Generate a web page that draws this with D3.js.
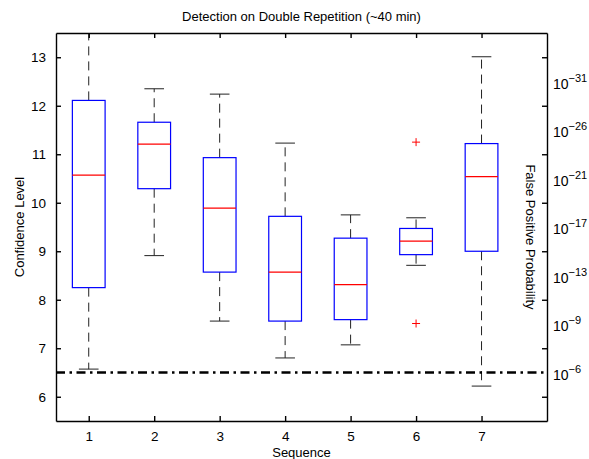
<!DOCTYPE html>
<html>
<head>
<meta charset="utf-8">
<script src="https://cdn.jsdelivr.net/npm/d3@7"></script>
<style>
  body { margin: 0; background: #fff; }
  text { font-family: "Liberation Sans", Arial, sans-serif; fill: #000; }
  .tick text { font-size: 13.5px; }
  .box { fill: none; stroke: #0000ff; stroke-width: 1.2px; }
  .median { stroke: #ff0000; stroke-width: 1.2px; }
  .whisker { stroke: #222; stroke-width: 1px; stroke-dasharray: 9 6; }
  .cap { stroke: #222; stroke-width: 1px; }
  .outlier { stroke: #ff0000; stroke-width: 1px; }
  .threshold { stroke: #000; stroke-width: 2.6px; stroke-dasharray: 9 4.5 2.5 4.5; fill: none; }
  .frame line, .frame path { stroke: #000; stroke-width: 1.4px; }
</style>
</head>
<body>
<svg id="chart" width="589" height="459"></svg>
<script>
  // values
  const sequences = [1, 2, 3, 4, 5, 6, 7];
  const whiskerLow = [6.57, 8.91, 7.56, 6.80, 7.07, 8.71, 6.22];
  const q1 = [8.25, 10.29, 8.57, 7.56, 7.59, 8.93, 9.00];
  const median = [10.57, 11.21, 9.89, 8.57, 8.31, 9.21, 10.54];
  const q3 = [12.11, 11.66, 10.93, 9.72, 9.27, 9.47, 11.22];
  const whiskerHigh = [13.9, 12.35, 12.24, 11.23, 9.75, 9.69, 13.01];
  const outliers = [[6, 11.25], [6, 7.51]];
  const threshold = 6.5;
  const yTicks = [6, 7, 8, 9, 10, 11, 12, 13];
  const rightExponents = [-31, -26, -21, -17, -13, -9, -6];
  const rightLabelAt = [12.5, 11.5, 10.5, 9.5, 8.5, 7.5, 6.5];

  const margin = {top: 33, right: 42, bottom: 38, left: 56};
  const width = 589, height = 459;
  const svg = d3.select('#chart');

  const x = d3.scaleLinear().domain([0.5, 8]).range([margin.left, width - margin.right]);
  const y = d3.scaleLinear().domain([5.5, 13.5]).range([height - margin.bottom, margin.top]);

  const boxHalf = 0.25, capHalf = 0.15;

  svg.append('clipPath').attr('id', 'plot-clip')
    .append('rect')
    .attr('x', x(0.5)).attr('y', y(13.5))
    .attr('width', x(8) - x(0.5)).attr('height', y(5.5) - y(13.5));

  const plot = svg.append('g').attr('clip-path', 'url(#plot-clip)');

  const data = sequences.map((s, i) => ({
    s, lo: whiskerLow[i], q1: q1[i], med: median[i], q3: q3[i], hi: whiskerHigh[i]
  }));

  const g = plot.selectAll('g.seq').data(data).join('g').attr('class', 'seq');

  // whiskers
  g.append('line').attr('class', 'whisker')
    .attr('x1', d => x(d.s)).attr('x2', d => x(d.s))
    .attr('y1', d => y(d.q3)).attr('y2', d => y(d.hi));
  g.append('line').attr('class', 'whisker')
    .attr('x1', d => x(d.s)).attr('x2', d => x(d.s))
    .attr('y1', d => y(d.q1)).attr('y2', d => y(d.lo));
  // caps
  g.append('line').attr('class', 'cap')
    .attr('x1', d => x(d.s - capHalf)).attr('x2', d => x(d.s + capHalf))
    .attr('y1', d => y(d.hi)).attr('y2', d => y(d.hi));
  g.append('line').attr('class', 'cap')
    .attr('x1', d => x(d.s - capHalf)).attr('x2', d => x(d.s + capHalf))
    .attr('y1', d => y(d.lo)).attr('y2', d => y(d.lo));
  // boxes
  g.append('rect').attr('class', 'box')
    .attr('x', d => x(d.s - boxHalf)).attr('width', d => x(d.s + boxHalf) - x(d.s - boxHalf))
    .attr('y', d => y(d.q3)).attr('height', d => y(d.q1) - y(d.q3));
  g.append('line').attr('class', 'median')
    .attr('x1', d => x(d.s - boxHalf)).attr('x2', d => x(d.s + boxHalf))
    .attr('y1', d => y(d.med)).attr('y2', d => y(d.med));

  // outliers as red +
  const o = plot.selectAll('g.out').data(outliers).join('g').attr('class', 'out')
    .attr('transform', d => `translate(${x(d[0])},${y(d[1])})`);
  o.append('line').attr('class', 'outlier').attr('x1', -4).attr('x2', 4);
  o.append('line').attr('class', 'outlier').attr('y1', -4).attr('y2', 4);

  // threshold line
  plot.append('line').attr('class', 'threshold')
    .attr('x1', x(0.5)).attr('x2', x(8))
    .attr('y1', y(threshold)).attr('y2', y(threshold));

  // axes, MATLAB style with inward ticks
  const frame = svg.append('g').attr('class', 'frame');
  frame.append('g')
    .attr('transform', `translate(0,${y(5.5)})`)
    .call(d3.axisBottom(x).tickValues(sequences).tickSizeInner(-5).tickSizeOuter(0).tickPadding(10))
    .call(a => a.selectAll('.tick text').attr('dy', '0.71em'));
  frame.append('g')
    .attr('transform', `translate(0,${y(13.5)})`)
    .call(d3.axisTop(x).tickValues(sequences).tickSizeInner(-5).tickSizeOuter(0).tickFormat(''));
  frame.append('g')
    .attr('transform', `translate(${x(0.5)},0)`)
    .call(d3.axisLeft(y).tickValues(yTicks).tickSizeInner(-5).tickSizeOuter(0).tickPadding(10));
  frame.append('g')
    .attr('transform', `translate(${x(8)},0)`)
    .call(d3.axisRight(y).tickValues(yTicks).tickSizeInner(-5).tickSizeOuter(0).tickFormat(''));

  // right probability labels
  const rl = svg.append('g').selectAll('text').data(rightExponents).join('text')
    .attr('x', x(8) + 6)
    .attr('y', (d, i) => y(rightLabelAt[i]) + 7)
    .attr('font-size', 14);
  rl.append('tspan').text('10');
  rl.append('tspan').attr('dy', -7).attr('font-size', 11)
    .text(d => '\u2212' + Math.abs(d));

  // titles
  svg.append('text').attr('x', (x(0.5) + x(8)) / 2).attr('y', 21)
    .attr('text-anchor', 'middle').attr('font-size', 13)
    .text('Detection on Double Repetition (~40 min)');
  svg.append('text').attr('x', (x(0.5) + x(8)) / 2).attr('y', 457)
    .attr('text-anchor', 'middle').attr('font-size', 13)
    .text('Sequence');
  svg.append('text')
    .attr('transform', `translate(24,${(y(5.5) + y(13.5)) / 2}) rotate(-90)`)
    .attr('text-anchor', 'middle').attr('font-size', 13)
    .text('Confidence Level');
  svg.append('text')
    .attr('transform', `translate(526,${(y(5.5) + y(13.5)) / 2 + 10}) rotate(90)`)
    .attr('text-anchor', 'middle').attr('font-size', 13)
    .text('False Positive Probability');
</script>
</body>
</html>
